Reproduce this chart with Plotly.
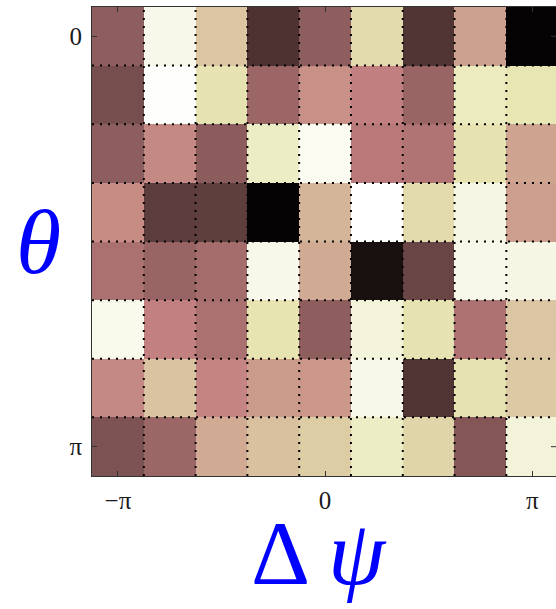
import numpy as np
import plotly.graph_objects as go

PI = np.pi

# Cell centres: phase difference (columns) and polar angle (rows)
dpsi = [-PI + k * PI / 4 for k in range(9)]
theta = [k * PI / 7 for k in range(8)]

# Normalised intensity, one row per theta value
z = [
    [0.20, 0.92, 0.60, 0.06, 0.20, 0.68, 0.065, 0.47, 0.002],
    [0.14, 0.99, 0.72, 0.24, 0.42, 0.37, 0.23, 0.78, 0.74],
    [0.20, 0.40, 0.195, 0.80, 0.95, 0.34, 0.31, 0.72, 0.48],
    [0.41, 0.084, 0.09, 0.002, 0.54, 1.00, 0.68, 0.90, 0.46],
    [0.29, 0.23, 0.27, 0.92, 0.50, 0.01, 0.11, 0.92, 0.90],
    [0.93, 0.375, 0.29, 0.73, 0.20, 0.87, 0.72, 0.30, 0.60],
    [0.40, 0.59, 0.39, 0.45, 0.44, 0.92, 0.064, 0.72, 0.62],
    [0.155, 0.237, 0.50, 0.58, 0.63, 0.80, 0.66, 0.172, 0.86],
]

x_tickvals = [-PI, 0, PI]
x_ticktext = ["\u2212\u03c0", "0", "\u03c0"]
y_tickvals = [0, PI]
y_ticktext = ["0", "\u03c0"]


def pink_scale(n=64):
    """MATLAB-style 'pink' colormap: sqrt((2*gray + hot) / 3)."""
    stops = []
    for i in range(n):
        v = i / (n - 1)
        r = min(1.0, v / 0.375)
        g = min(1.0, max(0.0, (v - 0.375) / 0.375))
        b = min(1.0, max(0.0, (v - 0.75) / 0.25))
        rgb = [np.sqrt((2 * v + c) / 3) for c in (r, g, b)]
        stops.append([v, "rgb(%d,%d,%d)" % tuple(round(255 * c) for c in rgb)])
    return stops


dx = PI / 4
dy = PI / 7

fig = go.Figure(
    go.Heatmap(
        x=dpsi,
        y=theta,
        z=z,
        zmin=0,
        zmax=1,
        colorscale=pink_scale(),
        showscale=False,
    )
)

# Dotted separators between neighbouring cells
dot = dict(color="black", width=2, dash="2px,6px")
shapes = []
for k in range(len(dpsi) - 1):
    xb = dpsi[k] + dx / 2
    shapes.append(dict(type="line", xref="x", yref="paper", x0=xb, x1=xb, y0=0, y1=1,
                       line=dot, layer="above"))
for k in range(len(theta) - 1):
    yb = theta[k] + dy / 2
    shapes.append(dict(type="line", xref="paper", yref="y", x0=0, x1=1, y0=yb, y1=yb,
                       line=dot, layer="above"))

# Mirrored y ticks on the right-hand frame
for yv in y_tickvals:
    shapes.append(dict(type="line", xref="paper", yref="y", xsizemode="pixel", xanchor=1,
                       x0=-5, x1=0, y0=yv, y1=yv,
                       line=dict(color="#333333", width=1), layer="above"))

tick_font = dict(family="Liberation Serif", size=25, color="#1a1a1a")
label_font = dict(family="Liberation Serif", size=92, color="#0000ff")

fig.update_layout(
    width=556,
    height=609,
    margin=dict(l=92, r=0, t=7, b=133),
    paper_bgcolor="white",
    plot_bgcolor="white",
    shapes=shapes,
    xaxis=dict(
        range=[dpsi[0] - dx / 2, 3.502],
        tickvals=x_tickvals,
        ticktext=x_ticktext,
        ticks="inside",
        ticklen=5,
        tickcolor="#333333",
        showline=True,
        linecolor="#333333",
        linewidth=1,
        mirror="ticks",
        showgrid=False,
        zeroline=False,
        tickfont=tick_font,
        ticklabelstandoff=2,
        layer="above traces",
    ),
    yaxis=dict(
        range=[theta[-1] + dy / 2, theta[0] - dy / 2],
        tickvals=y_tickvals,
        ticktext=y_ticktext,
        ticks="inside",
        ticklen=5,
        tickcolor="#333333",
        showline=True,
        linecolor="#333333",
        linewidth=1,
        showgrid=False,
        zeroline=False,
        tickfont=tick_font,
        ticklabelstandoff=4,
        layer="above traces",
    ),
    annotations=[
        dict(text="<i>\u03b8</i>", xref="paper", yref="paper", x=-0.116, y=0.50,
             xanchor="center", yanchor="middle", showarrow=False,
             font=label_font),
        dict(text="\u0394 <i>\u03c8</i>", xref="paper", yref="paper", x=0.49, y=-0.165,
             xanchor="center", yanchor="middle", showarrow=False,
             font=label_font),
    ],
)

fig.write_html("out.html")
